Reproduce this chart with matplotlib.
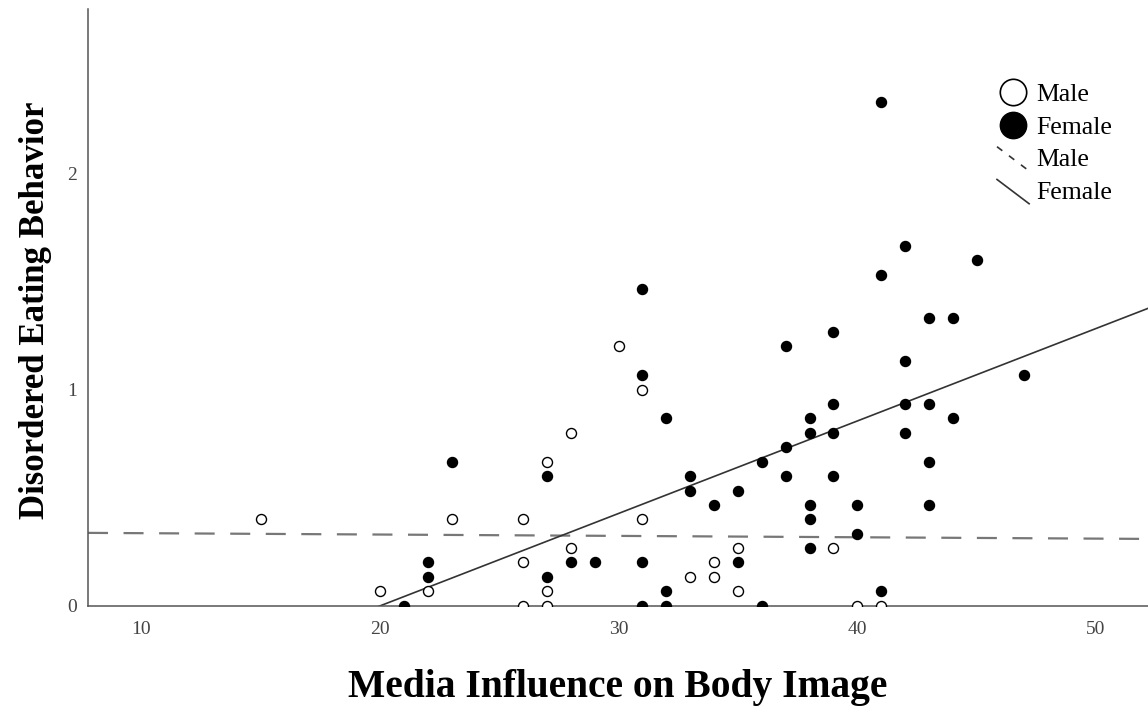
import numpy as np
import matplotlib
matplotlib.use("Agg")
import matplotlib.pyplot as plt
from matplotlib.lines import Line2D
from matplotlib.legend_handler import HandlerLine2D

# Media influence score (x) and disordered eating score (y), by gender
male_x = [15, 20, 22, 23, 26, 26, 26, 27, 27, 27, 28, 28, 30, 31, 31,
          33, 34, 34, 35, 35, 39, 40, 41]
male_y = [0.400, 0.067, 0.067, 0.400, 0.400, 0.200, 0.000, 0.667, 0.067, 0.000,
          0.800, 0.267, 1.200, 1.000, 0.400, 0.133, 0.200, 0.133, 0.267, 0.067,
          0.267, 0.000, 0.000]

female_x = [21, 22, 22, 23, 27, 27, 28, 29, 31, 31, 31, 31, 32, 32, 32,
            33, 33, 34, 35, 35, 36, 36, 37, 37, 37,
            38, 38, 38, 38, 38, 39, 39, 39, 39, 40, 40,
            41, 41, 41, 42, 42, 42, 42, 43, 43, 43, 43, 44, 44, 45, 47]
female_y = [0.000, 0.200, 0.133, 0.667, 0.600, 0.133, 0.200, 0.200,
            1.467, 1.067, 0.200, 0.000, 0.867, 0.067, 0.000,
            0.600, 0.533, 0.467, 0.533, 0.200, 0.667, 0.000,
            1.200, 0.733, 0.600,
            0.867, 0.800, 0.467, 0.400, 0.267,
            1.267, 0.933, 0.800, 0.600, 0.467, 0.333,
            2.333, 1.533, 0.067, 1.667, 1.133, 0.933, 0.800,
            1.333, 0.933, 0.667, 0.467, 1.333, 0.867, 1.600, 1.067]

# fit line coefficients (intercept, slope) per group
male_fit = (0.342, -0.00063)
female_fit = (-0.857, 0.0428)

fig = plt.figure(figsize=(11.48, 7.06), dpi=100)
ax = fig.add_axes([88 / 1148, 100.3 / 706, 1060 / 1148, 596.7 / 706])

xmin, xmax = 7.77, 52.18
ax.set_xlim(xmin, xmax)
ax.set_ylim(0, 2.762)

ax.scatter(male_x, male_y, s=52, facecolors="white", edgecolors="black",
           linewidths=1.0, zorder=3)
ax.scatter(female_x, female_y, s=52, color="black", zorder=3)

xs = np.array([xmin, xmax])
ax.plot(xs, male_fit[0] + male_fit[1] * xs, color="#777777", lw=1.6,
        dashes=(9, 7), zorder=2)
ax.plot(xs, female_fit[0] + female_fit[1] * xs, color="#333333", lw=1.2,
        zorder=2)

for side in ["top", "right"]:
    ax.spines[side].set_visible(False)
for side in ["left", "bottom"]:
    ax.spines[side].set_color("#555555")
    ax.spines[side].set_linewidth(1.1)

ax.set_xticks([10, 20, 30, 40, 50])
ax.set_yticks([0, 1, 2])
ax.tick_params(axis="both", length=0, labelsize=14, labelcolor="#444444")
ax.tick_params(axis="x", pad=11)
ax.tick_params(axis="y", pad=8)
for lbl in ax.get_xticklabels() + ax.get_yticklabels():
    lbl.set_fontfamily("Liberation Serif")

ax.set_xlabel("Media Influence on Body Image", fontsize=28,
              family="Liberation Serif", fontweight="bold")
ax.set_ylabel("Disordered Eating Behavior", fontsize=25,
              family="Liberation Serif", fontweight="bold")

# scale the axis titles to their intended lengths in pixels
fig.canvas.draw()
renderer = fig.canvas.get_renderer()
for lab, target in [(ax.xaxis.label, 540), (ax.yaxis.label, 418)]:
    ext = lab.get_window_extent(renderer)
    lab.set_fontsize(lab.get_fontsize() * target / max(ext.width, ext.height))
    lab.set_fontweight("bold")
ax.xaxis.set_label_coords(0.5, -0.106)
ax.yaxis.set_label_coords(-0.034, 0.495)


class DiagonalHandler(HandlerLine2D):
    def create_artists(self, legend, orig_handle, xdescent, ydescent,
                       width, height, fontsize, trans):
        line = Line2D([0, width], [height * 1.1, -height * 0.25])
        self.update_prop(line, orig_handle, legend)
        line.set_transform(trans)
        return [line]


h_male_pt = Line2D([], [], ls="none", marker="o", ms=19, mfc="white",
                   mec="black", mew=1.2)
h_female_pt = Line2D([], [], ls="none", marker="o", ms=19, mfc="black",
                     mec="black")
h_male_ln = Line2D([], [], color="#333333", lw=1.2, dashes=(4, 5))
h_female_ln = Line2D([], [], color="#333333", lw=1.2)

ax.legend([h_male_pt, h_female_pt, h_male_ln, h_female_ln],
          ["Male", "Female", "Male", "Female"],
          handler_map={h_male_ln: DiagonalHandler(),
                       h_female_ln: DiagonalHandler()},
          loc="upper left", bbox_to_anchor=(997 / 1148, 1 - 83 / 706),
          bbox_transform=fig.transFigure, frameon=False,
          prop={"family": "Liberation Serif", "size": 18.5},
          handlelength=1.25, handletextpad=0.28, labelspacing=0.38,
          borderpad=0, borderaxespad=0)

fig.savefig("out.png", dpi=100)
